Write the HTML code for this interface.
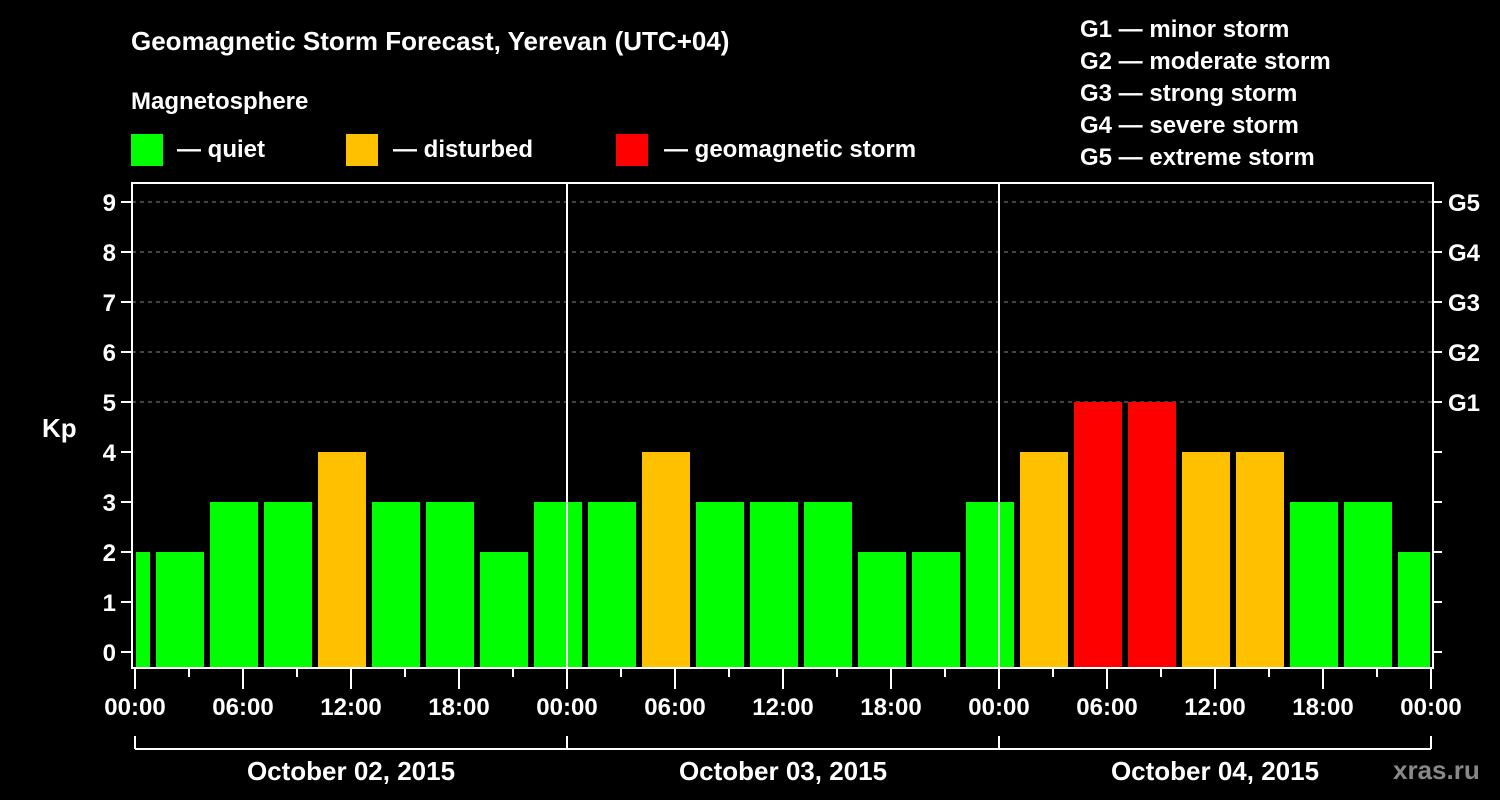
<!DOCTYPE html>
<html><head><meta charset="utf-8"><style>
html,body{margin:0;padding:0;background:#000;}
svg{display:block;font-family:"Liberation Sans",sans-serif;font-weight:bold;}
</style></head><body>
<svg id="chart" width="1500" height="800" viewBox="0 0 1500 800">
<rect width="1500" height="800" fill="#000"/>
<text x="131" y="50" fill="#fff" font-size="26">Geomagnetic Storm Forecast, Yerevan (UTC+04)</text>
<text x="131" y="109" fill="#fff" font-size="24">Magnetosphere</text>
<g><rect x="131" y="134" width="32" height="32" fill="#00ff00"/><text x="177" y="157" fill="#fff" font-size="24">— quiet</text></g>
<g><rect x="346" y="134" width="32" height="32" fill="#ffc000"/><text x="393" y="157" fill="#fff" font-size="24">— disturbed</text></g>
<g><rect x="616" y="134" width="32" height="32" fill="#ff0000"/><text x="664" y="157" fill="#fff" font-size="24">— geomagnetic storm</text></g>
<g fill="#fff" font-size="24">
<text x="1080" y="37">G1 — minor storm</text>
<text x="1080" y="69">G2 — moderate storm</text>
<text x="1080" y="101">G3 — strong storm</text>
<text x="1080" y="133">G4 — severe storm</text>
<text x="1080" y="165">G5 — extreme storm</text>
</g>
<text x="42" y="437" fill="#fff" font-size="26">Kp</text>
<text x="1393" y="779" fill="#888" font-size="26">xras.ru</text>
<g id="grid"></g><g id="bars"></g><g id="axes"></g>
</svg>
<script>
const kpValues=[2,2,3,3,4,3,3,2,3,3,4,3,3,3,2,2,3,4,5,5,4,4,3,3,2];
const binStartHours=[-2,1,4,7,10,13,16,19,22,25,28,31,34,37,40,43,46,49,52,55,58,61,64,67,70];
const yTickLabels=["0","1","2","3","4","5","6","7","8","9"];
const gLabels=["G1","G2","G3","G4","G5"];
const timeLabels=["00:00","06:00","12:00","18:00","00:00","06:00","12:00","18:00","00:00","06:00","12:00","18:00","00:00"];
const dayLabels=["October 02, 2015","October 03, 2015","October 04, 2015"];
const NS="http://www.w3.org/2000/svg";
const X0=135,PX_H=18,L=132,R=1433,T=183,B=668;
const xs=h=>X0+h*PX_H;
const ys=k=>652-50*k;
function mk(p,tag,a){const e=document.createElementNS(NS,tag);for(const k in a)e.setAttribute(k,a[k]);p.appendChild(e);return e;}
const grid=document.getElementById('grid'),bars=document.getElementById('bars'),axes=document.getElementById('axes');
for(let k=5;k<=9;k++){const l=mk(grid,'line',{x1:L,x2:R,y1:ys(k),y2:ys(k),stroke:'#888','stroke-dasharray':'4,4','stroke-width':1});

}
kpValues.forEach((v,i)=>{const h=binStartHours[i];let x1=Math.max(xs(h)+3,L+4),x2=Math.min(xs(h+3)-3,R-3);
const c=v>=5?'#ff0000':(v>=4?'#ffc000':'#00ff00');
const r=mk(bars,'rect',{x:x1,y:ys(v),width:x2-x1,height:B-ys(v),fill:c});

});
[1,2].forEach(d=>{const l=mk(axes,'line',{x1:xs(24*d),x2:xs(24*d),y1:T,y2:B,stroke:'#fff','stroke-width':2});

});
const fr=mk(axes,'rect',{x:L,y:T,width:R-L,height:B-T,fill:'none',stroke:'#fff','stroke-width':2});


yTickLabels.forEach((t,k)=>{mk(axes,'line',{x1:L-11,x2:L,y1:ys(k),y2:ys(k),stroke:'#fff','stroke-width':2});
mk(axes,'line',{x1:R,x2:R+9,y1:ys(k),y2:ys(k),stroke:'#fff','stroke-width':2});
const tx=mk(axes,'text',{x:L-16,y:ys(k)+9,fill:'#fff','font-size':24,'text-anchor':'end'});tx.textContent=t;

});
gLabels.forEach((g,i)=>{const tx=mk(axes,'text',{x:1448,y:ys(5+i)+9,fill:'#fff','font-size':24});tx.textContent=g;

});
for(let h=0;h<=72;h+=3){mk(axes,'line',{x1:xs(h),x2:xs(h),y1:B,y2:h%6?677:689,stroke:'#fff','stroke-width':2});}
timeLabels.forEach((t,i)=>{const tx=mk(axes,'text',{x:xs(i*6),y:715,fill:'#fff','font-size':24,'text-anchor':'middle'});tx.textContent=t;

});
mk(axes,'line',{x1:xs(0),x2:xs(72),y1:749,y2:749,stroke:'#fff','stroke-width':2});
for(let d=0;d<=3;d++)mk(axes,'line',{x1:xs(24*d),x2:xs(24*d),y1:736,y2:749,stroke:'#fff','stroke-width':2});
dayLabels.forEach((t,i)=>{const tx=mk(axes,'text',{x:xs(24*i+12),y:780,fill:'#fff','font-size':26,'text-anchor':'middle'});tx.textContent=t;

});
</script>
</body></html>
